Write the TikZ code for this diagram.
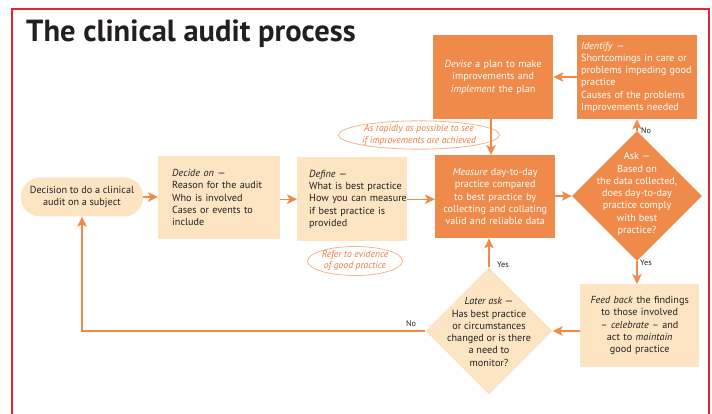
\documentclass[tikz,border=0pt]{standalone}
\usepackage{fontspec}
\setmainfont{PT Sans}
\usetikzlibrary{arrows.meta,shapes.geometric}

\definecolor{auditorange}{HTML}{F08A4A}
\definecolor{auditpeach}{HTML}{FDE5C3}
\definecolor{noteline}{HTML}{F5B38C}
\definecolor{notetext}{HTML}{EC7C40}
\definecolor{framered}{HTML}{E3262C}
\definecolor{inkdark}{HTML}{231F20}

% body text: lines are broken by hand, never hyphenated
\newcommand\auditbody{\fontsize{10.2}{12.3}\selectfont\hyphenpenalty=10000\exhyphenpenalty=10000\hbadness=10000\hfuzz=40pt}
\newcommand\auditnote{\fontsize{9.6}{11.2}\selectfont\itshape}

\tikzset{
  lightbox/.style={fill=auditpeach, text=inkdark, inner ysep=0pt, anchor=north west, font=\auditbody},
  darkbox/.style={fill=auditorange, text=white, inner ysep=0pt, anchor=north west, font=\auditbody},
  decision/.style={diamond, inner sep=0pt, minimum width=#1, minimum height=#1, draw=none},
  flow/.style={draw=auditorange, line width=1.3pt, -{Stealth[length=10pt, width=9.5pt, inset=2.5pt]}},
  note/.style={ellipse, draw=noteline, line width=0.8pt, inner sep=0pt, text=notetext, font=\auditnote, align=center},
  answer/.style={font=\fontsize{8.2}{9}\selectfont, text=inkdark, inner sep=0pt, anchor=west},
}

\begin{document}
\begin{tikzpicture}[x=1pt, y=-1pt]
\useasboundingbox (0,0) rectangle (712,414);

% frame
\draw[framered, line width=1.6pt] (12,420) -- (12,9) -- (709,9) -- (709,420);

% title
\node[anchor=base west, inner sep=0pt, text=inkdark, font=\bfseries\fontsize{30.5}{32}\selectfont] (title) at (26,42) {The clinical audit process};

% process boxes
\node[fill=auditpeach, text=inkdark, rounded corners=19pt, minimum width=122pt, minimum height=39pt, inner sep=0pt, align=center, font=\auditbody] (start) at (82,197)
  {Decision to do a clinical\\audit on a subject};

\node[lightbox, minimum width=122pt, minimum height=83pt, inner xsep=14pt, text width=94pt, align=left] (decide) at (158,156)
  {\textit{Decide on} ---\\Reason for the audit\\Who is involved\\Cases or events to\\include};

\node[lightbox, minimum width=110pt, minimum height=84pt, inner xsep=12pt, text width=86pt, align=left] (define) at (297,157)
  {\textit{Define} ---\\\mbox{What is best practice}\\\mbox{How you can measure}\\\mbox{if best practice is}\\provided};

\node[darkbox, minimum width=120pt, minimum height=83pt, inner xsep=4pt, text width=112pt, align=center] (measure) at (435,155)
  {\textit{Measure} day-to-day\\practice compared\\to best practice by\\collecting and collating\\valid and reliable data};

\node[darkbox, minimum width=120pt, minimum height=84pt, inner xsep=4pt, text width=112pt, align=center] (devise) at (433,35)
  {\textit{Devise} a plan to make\\improvements and\\\textit{implement} the plan};

\node[darkbox, minimum width=120pt, minimum height=84pt, inner xsep=4pt, text width=112pt, align=left] (identify) at (577,35)
  {\textit{Identify} ---\\Shortcomings in care or\\problems impeding good\\practice\\Causes of the problems\\Improvements needed};

\node[lightbox, minimum width=119pt, minimum height=83pt, inner xsep=4pt, text width=111pt, align=center] (feedback) at (580,284)
  {\textit{Feed back} the findings\\to those involved\\-- \textit{celebrate} -- and\\act to \textit{maintain}\\good practice};

% decision diamonds
\node[decision=130pt, fill=auditorange] (ask) at (637,196) {};
\node[text=white, font=\auditbody, align=center, inner sep=0pt] (asktext) at (637,194)
  {Ask ---\\Based on\\the data collected,\\does day-to-day\\practice comply\\with best\\practice?};

\node[decision=127pt, fill=auditpeach] (later) at (489,331) {};
\node[text=inkdark, font=\auditbody, align=center, inner sep=0pt] (latertext) at (489,332)
  {\textit{Later ask} ---\\Has best practice\\or circumstances\\changed or is there\\a need to\\monitor?};

% side notes
\node[note, minimum width=154pt, minimum height=28pt] (rapid) at (419,135)
  {As rapidly as possible to see\\if improvements are achieved};
\node[note, minimum width=95pt, minimum height=29pt] (refer) at (355,261)
  {Refer to evidence\\of good practice};

% connectors
\draw[flow] (start.east) -- (decide.west |- start.east);
\draw[flow] (decide.east |- define.west) -- (define.west);
\draw[flow] (define.east) -- (measure.west |- define.east);
\draw[flow] (measure.east |- ask.west) -- (ask.west);
\draw[flow] (ask.north) -- (identify.south -| ask.north);
\draw[flow] (identify.west |- 0,77) -- (devise.east |- 0,77);
\draw[flow] (491,119) coordinate (devfoot) -- (devfoot |- measure.north);
\draw[flow] (ask.south) -- (ask.south |- feedback.north);
\draw[flow] (feedback.west |- later.east) -- (later.east);
\draw[flow] (later.north) -- (later.north |- measure.south);
\draw[flow] (later.west) -| (start.south);

% answer labels
\node[answer] (noup) at (641,131) {No};
\node[answer] (yesdown) at (640,263) {Yes};
\node[answer] (yesup) at (497,265) {Yes};
\node[answer] (noback) at (406,324) {No};
\end{tikzpicture}
\end{document}
